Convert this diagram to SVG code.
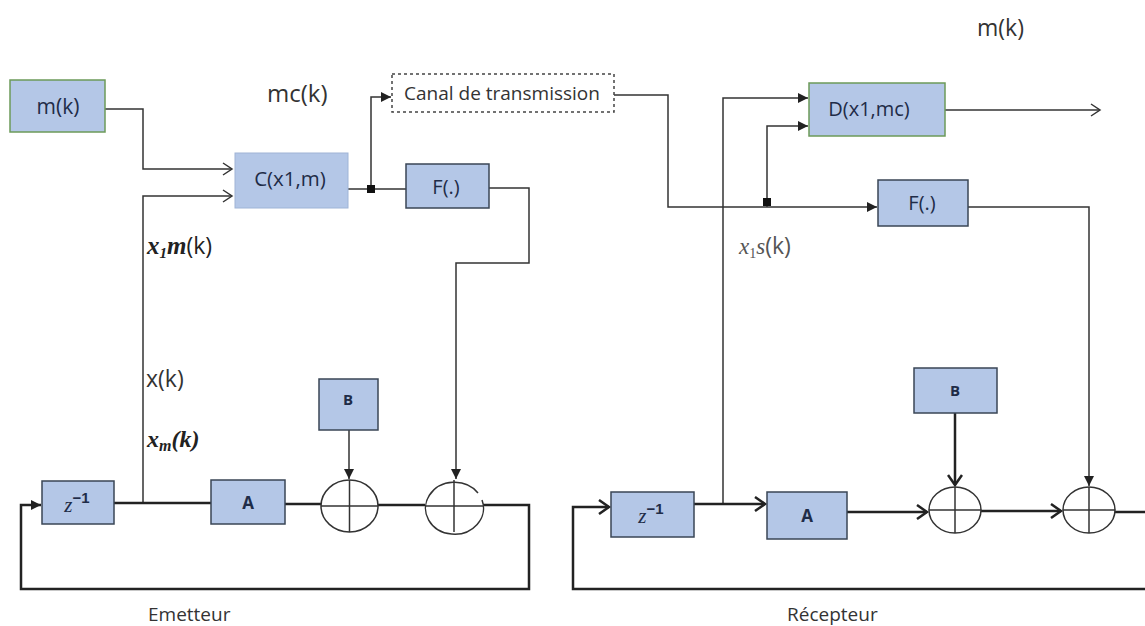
<svg xmlns="http://www.w3.org/2000/svg" width="1145" height="626" viewBox="0 0 1145 626">
<style>
  .box{fill:#b4c7e7;stroke:#3a4656;stroke-width:1.5}
  .gbox{fill:#b4c7e7;stroke:#6c9a5a;stroke-width:1.5}
  .cbox{fill:#b4c7e7;stroke:#9fb4d6;stroke-width:1}
  .lbl{font-family:"Open Sans","Liberation Sans",sans-serif;fill:#1f2c48;text-anchor:middle;dominant-baseline:central}
  .txt{font-family:"Open Sans","Liberation Sans",sans-serif;fill:#333}
  .ln{fill:none;stroke:#333;stroke-width:1.5}
  .thk{fill:none;stroke:#222;stroke-width:2.5}
  .add{fill:none;stroke:#333;stroke-width:1.5}
  .math{font-family:"Liberation Serif",serif;font-style:italic;font-weight:bold}
</style>
<defs>
  <marker id="fa" markerUnits="userSpaceOnUse" markerWidth="12" markerHeight="10" refX="10" refY="5" orient="auto">
    <path d="M0,0 L10,5 L0,10 z" fill="#222"/>
  </marker>
  <marker id="oa" markerUnits="userSpaceOnUse" markerWidth="12" markerHeight="14" refX="10" refY="7" orient="auto">
    <path d="M1,1 L10,7 L1,13" fill="none" stroke="#333" stroke-width="1.5"/>
  </marker>
  <marker id="ot" markerUnits="userSpaceOnUse" markerWidth="14" markerHeight="16" refX="11" refY="8" orient="auto">
    <path d="M1,1 L11,8 L1,15" fill="none" stroke="#222" stroke-width="2.5"/>
  </marker>
</defs>
<rect width="1145" height="626" fill="#fff"/>

<g id="connectors">
  <!-- Emetteur -->
  <polyline class="ln" points="105,109 143,109 143,169 232,169" marker-end="url(#oa)"/>
  <polyline class="ln" points="143,503 143,196 232,196" marker-end="url(#oa)"/>
  <line class="ln" x1="348" y1="189" x2="406" y2="189"/>
  <polyline class="ln" points="371,189 371,97 391,97" marker-end="url(#fa)"/>
  <polyline class="ln" points="489,188 529,188 529,263 456,263 456,479" marker-end="url(#fa)"/>
  <line class="ln" x1="349" y1="430" x2="349" y2="479" marker-end="url(#fa)"/>
  <line class="thk" x1="114" y1="503" x2="211" y2="503"/>
  <line class="thk" x1="285" y1="504" x2="321" y2="504"/>
  <line class="thk" x1="378" y1="505" x2="425" y2="505"/>
  <polyline class="thk" points="483,505 529,505 529,589 21,589 21,505 41,505" marker-end="url(#fa)"/>
  <!-- Recepteur -->
  <polyline class="ln" points="614,95 668,95 668,207 877,207" marker-end="url(#fa)"/>
  <polyline class="ln" points="723,504 723,98 808,98" marker-end="url(#fa)"/>
  <polyline class="ln" points="767,207 767,126 808,126" marker-end="url(#fa)"/>
  <line class="ln" x1="945" y1="110" x2="1100" y2="110" marker-end="url(#oa)"/>
  <polyline class="ln" points="968,207 1089,207 1089,486" marker-end="url(#fa)"/>
  <line class="thk" x1="694" y1="504" x2="765" y2="504" marker-end="url(#ot)"/>
  <line class="thk" x1="847" y1="512" x2="927" y2="512" marker-end="url(#ot)"/>
  <line class="thk" x1="981" y1="511" x2="1061" y2="511" marker-end="url(#ot)"/>
  <line class="thk" x1="955" y1="413" x2="955" y2="485" marker-end="url(#ot)"/>
  <polyline class="thk" points="1115,512 1150,512 1150,589 573,589 573,507 609,507" marker-end="url(#ot)"/>
  <!-- junctions -->
  <rect x="367" y="185" width="8" height="8" fill="#111"/>
  <rect x="763" y="198" width="8" height="8" fill="#111"/>
</g>

<g id="mk1"><rect class="gbox" x="10" y="80" width="95" height="52"/><text class="lbl" x="58" y="106" font-size="21">m(k)</text></g>
<g id="mc-label"><text class="txt" x="267" y="102" font-size="24">mc(k)</text></g>
<g id="C"><rect class="cbox" x="235" y="153" width="113" height="55"/><text class="lbl" x="290" y="178" font-size="20.5">C(x1,m)</text></g>
<g id="canal"><rect x="392" y="74" width="222" height="38" fill="#fff" stroke="#444" stroke-width="1.5" stroke-dasharray="3,3"/><text class="txt" x="502" y="93" font-size="19" text-anchor="middle" dominant-baseline="central">Canal de transmission</text></g>
<g id="F1"><rect class="box" x="406" y="164" width="83" height="44"/><text class="lbl" x="446" y="186" font-size="20">F(.)</text></g>
<g id="labels1">
  <text x="147" y="254" font-size="23" fill="#222"><tspan class="math" font-size="25">x</tspan><tspan class="math" font-size="15" dy="4">1</tspan><tspan class="math" font-size="25" dy="-4">m</tspan><tspan font-family="Open Sans, sans-serif" font-size="23">(k)</tspan></text>
  <text class="txt" x="146" y="387" font-size="23">x(k)</text>
  <text x="147" y="447" font-size="24" fill="#222"><tspan class="math">x</tspan><tspan class="math" font-size="16" dy="4">m</tspan><tspan class="math" dy="-4" font-style="normal">(</tspan><tspan class="math">k</tspan><tspan class="math" font-style="normal">)</tspan></text>
</g>
<g id="z1"><rect class="box" x="42" y="481" width="72" height="43"/><text x="77" y="512" font-size="21" fill="#1f2c48" text-anchor="middle"><tspan font-family="Liberation Serif, serif" font-style="italic">z</tspan><tspan font-family="Liberation Sans, sans-serif" font-weight="bold" font-size="15" dy="-9">−1</tspan></text></g>
<g id="A1"><rect class="box" x="211" y="480" width="74" height="44"/><text class="lbl" x="248" y="502" font-size="17" font-weight="bold">A</text></g>
<g id="B1"><rect class="box" x="319" y="379" width="59" height="51"/><text class="lbl" x="348" y="399" font-size="15" font-weight="bold">B</text></g>
<g id="S1"><ellipse class="add" cx="349.5" cy="506" rx="28.5" ry="26"/><line class="add" x1="321" y1="506" x2="378" y2="506"/><line class="add" x1="349.5" y1="480" x2="349.5" y2="532"/></g>
<g id="S2"><path class="add" d="M482,500 A29,26 0 1 1 478,493"/><line class="add" x1="425" y1="506" x2="483" y2="506"/><line class="add" x1="454" y1="480" x2="454" y2="532"/></g>
<g id="emetteur"><text class="txt" x="148" y="621" font-size="19">Emetteur</text></g>

<g id="mk2"><text class="txt" x="977" y="36" font-size="23">m(k)</text></g>
<g id="D"><rect class="gbox" x="809" y="83" width="136" height="53"/><text class="lbl" x="869" y="108" font-size="20">D(x1,mc)</text></g>
<g id="F2"><rect class="box" x="878" y="180" width="90" height="46"/><text class="lbl" x="922" y="202" font-size="20">F(.)</text></g>
<g id="labels2"><text x="739" y="254" font-size="23" fill="#555"><tspan font-family="Liberation Serif, serif" font-style="italic">x</tspan><tspan font-family="Liberation Serif, serif" font-size="14" dy="4">1</tspan><tspan font-family="Liberation Serif, serif" font-style="italic" dy="-4">s</tspan><tspan font-family="Open Sans, sans-serif">(k)</tspan></text></g>
<g id="z2"><rect class="box" x="611" y="492" width="83" height="45"/><text x="651" y="523" font-size="21" fill="#1f2c48" text-anchor="middle"><tspan font-family="Liberation Serif, serif" font-style="italic">z</tspan><tspan font-family="Liberation Sans, sans-serif" font-weight="bold" font-size="15" dy="-9">−1</tspan></text></g>
<g id="A2"><rect class="box" x="767" y="492" width="80" height="47"/><text class="lbl" x="807" y="515" font-size="17" font-weight="bold">A</text></g>
<g id="B2"><rect class="box" x="914" y="368" width="83" height="45"/><text class="lbl" x="955" y="390" font-size="15" font-weight="bold">B</text></g>
<g id="S3"><ellipse class="add" cx="955" cy="510" rx="26" ry="23"/><line class="add" x1="929" y1="510" x2="981" y2="510"/><line class="add" x1="955" y1="487" x2="955" y2="533"/></g>
<g id="S4"><ellipse class="add" cx="1089" cy="510" rx="26" ry="23"/><line class="add" x1="1063" y1="510" x2="1115" y2="510"/><line class="add" x1="1089" y1="487" x2="1089" y2="533"/></g>
<g id="recepteur"><text class="txt" x="787" y="621" font-size="19">Récepteur</text></g>
</svg>
